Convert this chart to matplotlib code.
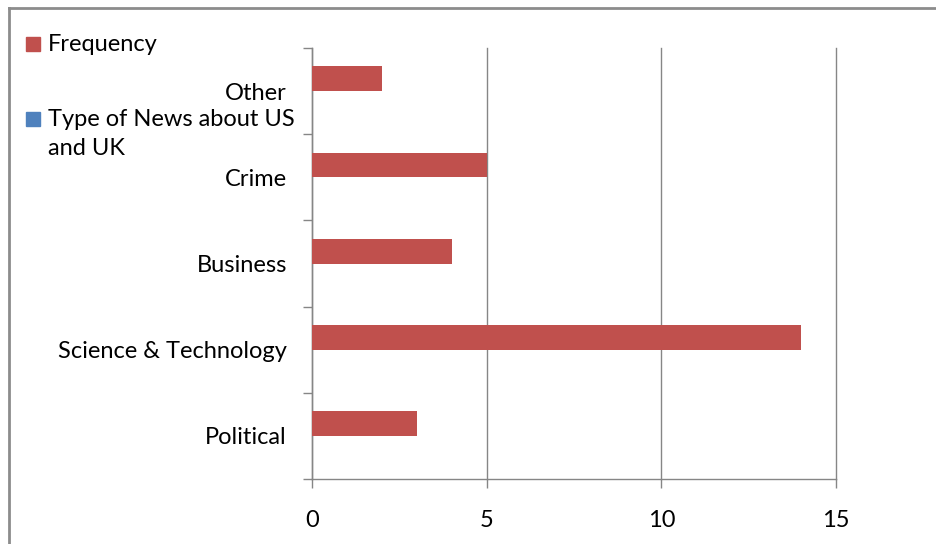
import matplotlib
matplotlib.use('Agg')
import matplotlib.pyplot as plt
from matplotlib.patches import Rectangle
import numpy as np

plt.rcParams['font.family'] = ['Lato', 'DejaVu Sans']

# news categories, bottom to top
categories = ['Political', 'Science & Technology', 'Business', 'Crime', 'Other']
frequency = [3, 14, 4, 5, 2]
news_type = [0, 0, 0, 0, 0]   # second series carries no values
series_names = ['Frequency', 'Type of News about US\nand UK']

red = '#C0504D'
blue = '#4F81BD'
grid_col = '#868686'
fs = 17
W, H = 937, 544

fig = plt.figure(figsize=(W / 100, H / 100), dpi=100)
ax = fig.add_axes([312 / W, 1 - 479 / H, (836 - 312) / W, (479 - 48) / H])

y = np.arange(len(categories))
bar_h = 1 / 3.5   # gap width 150%
b1 = ax.barh(y, frequency, height=bar_h, align='edge', color=red, zorder=3)
b2 = ax.barh(y - bar_h, news_type, height=bar_h, align='edge', color=blue, zorder=3)

ax.set_xlim(0, 15)
ax.set_ylim(-0.5, len(categories) - 0.5)
ax.set_xticks([0, 5, 10, 15])
ax.xaxis.grid(True, color=grid_col, lw=1)
ax.set_axisbelow(True)
for gl in ax.get_xgridlines():
    gl.set_clip_on(False)

# category boundaries get tick marks, labels sit at the slot centres
ax.set_yticks(np.arange(-0.5, len(categories), 1))
ax.set_yticklabels([])
ax.set_yticks(y, minor=True)
ax.set_yticklabels(categories, minor=True)
ax.tick_params(axis='y', which='major', length=6.5, color=grid_col, width=1)
ax.tick_params(axis='y', which='minor', length=0, pad=18, labelsize=fs)
ax.tick_params(axis='x', length=6.5, color=grid_col, width=1, pad=16, labelsize=fs)

for side in ['top', 'right']:
    ax.spines[side].set_visible(False)
for side in ['left', 'bottom']:
    ax.spines[side].set_color(grid_col)
    ax.spines[side].set_linewidth(1)

# legend keys drawn by hand so the blue key sits on the first label line
key_tops = [37, 112]
for bars, name, top in zip([b1, b2], series_names, key_tops):
    fig.add_artist(Rectangle((26 / W, 1 - (top + 14) / H), 14 / W, 14 / H,
                             transform=fig.transFigure,
                             color=bars.patches[0].get_facecolor()))
    fig.text(48 / W, 1 - (top - 3) / H, name, fontsize=fs, va='top', ha='left',
             linespacing=1.46)

# chart frame (top and left edges show)
fig.add_artist(plt.Line2D([9 / W, 1], [1 - 8 / H, 1 - 8 / H],
                          transform=fig.transFigure, color='#8c8c8c', lw=2))
fig.add_artist(plt.Line2D([9 / W, 9 / W], [0, 1 - 8 / H],
                          transform=fig.transFigure, color='#8c8c8c', lw=2))

fig.savefig('out.png', dpi=100)
